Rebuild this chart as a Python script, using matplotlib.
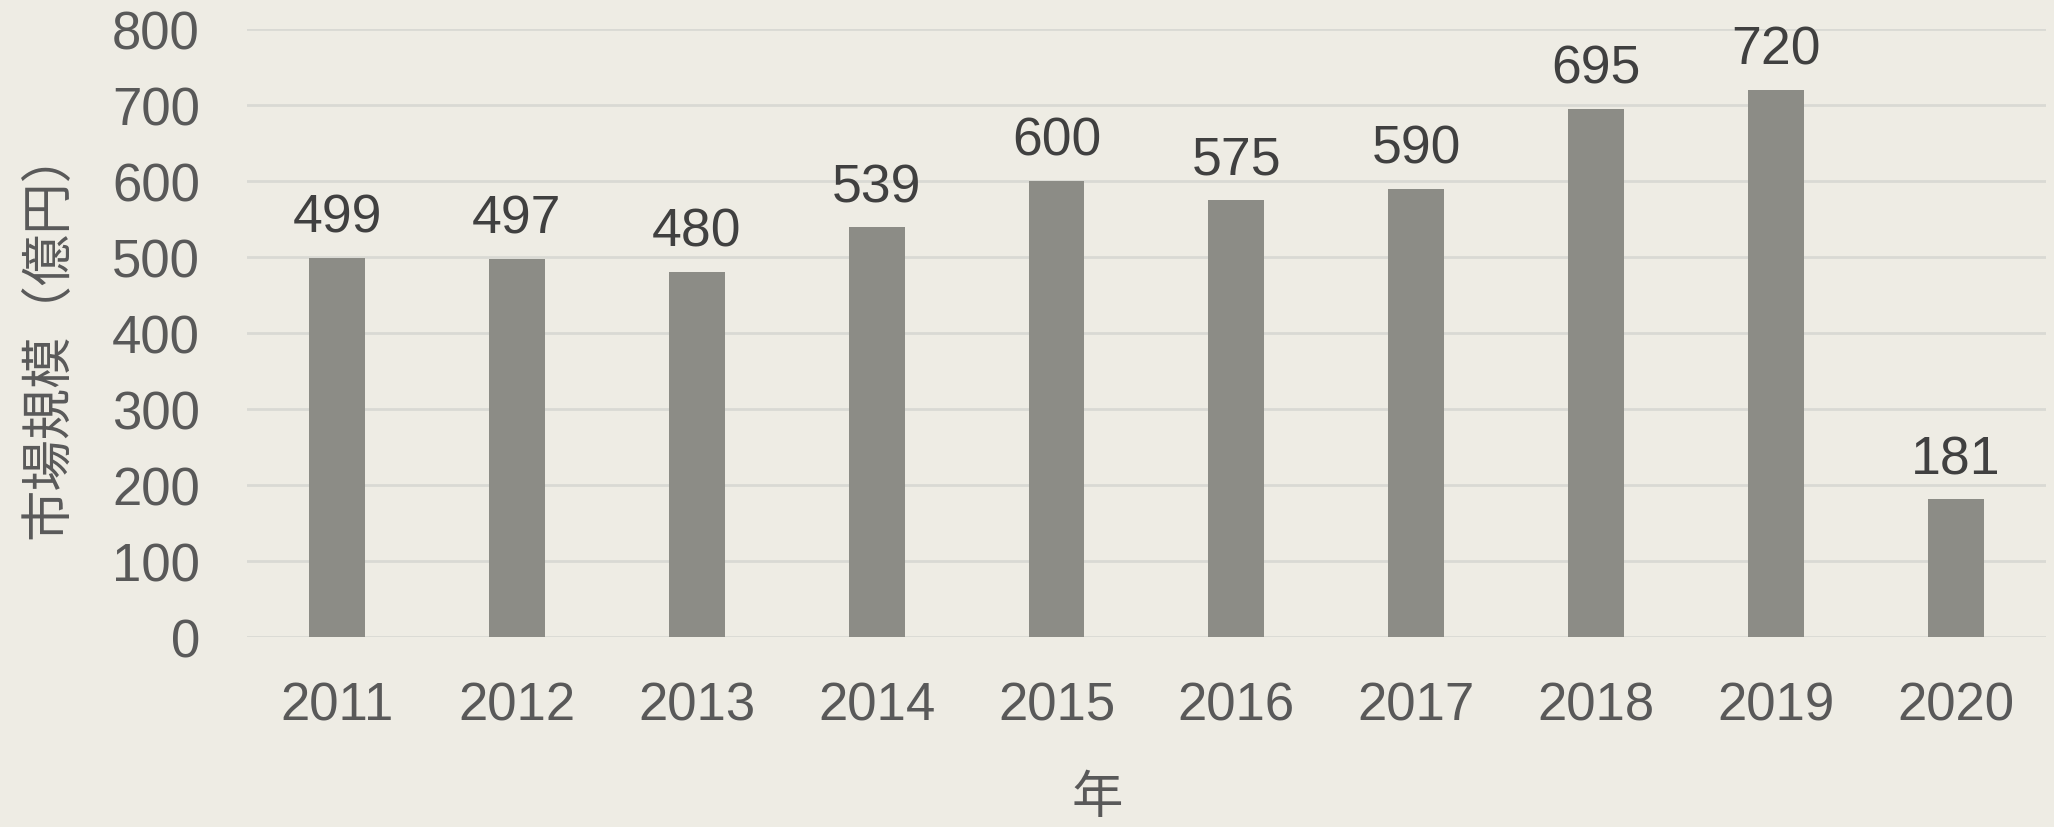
import matplotlib.pyplot as plt

years = ["2011", "2012", "2013", "2014", "2015", "2016", "2017", "2018", "2019", "2020"]
market_size = [499, 497, 480, 539, 600, 575, 590, 695, 720, 181]
y_ticks = [0, 100, 200, 300, 400, 500, 600, 700, 800]

plt.rcParams["font.family"] = ["Liberation Sans", "Noto Sans CJK JP"]

bg = "#EEECE4"
fig = plt.figure(figsize=(20.54, 8.28), dpi=100, facecolor=bg)
ax = fig.add_axes([0.1203, 0.2295, 0.8757, 0.7343], facecolor=bg)

x = range(len(years))
bars = ax.bar(x, market_size, width=0.31, color="#8C8C86", zorder=3)

for xi, v in zip(x, market_size):
    ax.annotate(str(v), (xi, v), xytext=(0, 11), textcoords="offset points",
                ha="center", va="bottom", fontsize=38.5, color="#404040")

ax.set_xlim(-0.5, len(years) - 0.5)
ax.set_ylim(0, 800)
ax.set_yticks(y_ticks)
ax.set_xticks(list(x))
ax.set_xticklabels(years)
ax.yaxis.grid(True, color="#D9D9D4", linewidth=2, zorder=0)
ax.tick_params(axis="both", length=0, labelsize=38, labelcolor="#595959")
ax.tick_params(axis="y", pad=34)
ax.tick_params(axis="x", pad=31)
for s in ax.spines.values():
    s.set_visible(False)

ax.set_ylabel("市場規模（億円）", fontsize=37, color="#595959", labelpad=27)
# the reference clips this label at the bottom edge; keep it just inside
ax.set_xlabel("年", fontsize=37, color="#595959", labelpad=32, x=0.4725)

fig.savefig("out.png", dpi=100, facecolor=bg)
